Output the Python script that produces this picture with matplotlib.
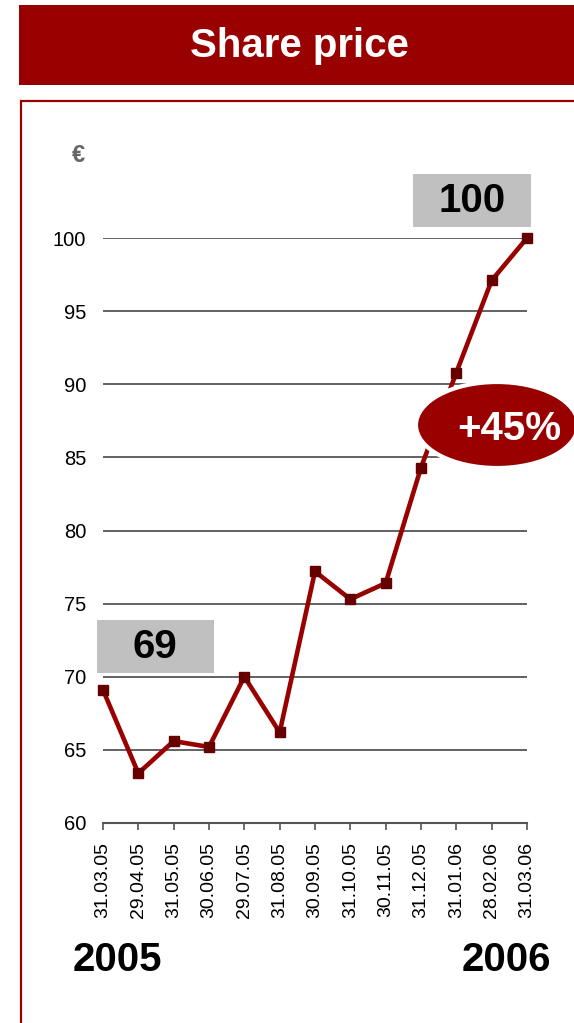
import matplotlib
matplotlib.use("Agg")
import matplotlib.pyplot as plt
from matplotlib.patches import Rectangle, Ellipse

plt.rcParams['font.family'] = ['Liberation Sans', 'DejaVu Sans']

# data
dates = ['31.03.05', '29.04.05', '31.05.05', '30.06.05', '29.07.05', '31.08.05',
         '30.09.05', '31.10.05', '30.11.05', '31.12.05', '31.01.06', '28.02.06', '31.03.06']
prices = [69.1, 63.4, 65.6, 65.2, 70.0, 66.2, 77.2, 75.3, 76.4, 84.3, 90.8, 97.1, 100.0]
yticks = [60, 65, 70, 75, 80, 85, 90, 95, 100]
start_label = '69'
end_label = '100'
change_label = '+45%'
years = ['2005', '2006']

RED = '#990000'
DARK = '#660000'
GRID = '#555555'

W, H = 574, 1023
fig = plt.figure(figsize=(W / 100, H / 100), dpi=100)


def fx(x):
    return x / W


def fy(y):
    return 1 - y / H


def box(x0, y0, x1, y1, **kw):
    # rectangle in pixel coords (top-left origin) on the figure
    r = Rectangle((fx(x0), fy(y1)), fx(x1) - fx(x0), fy(y0) - fy(y1),
                  transform=fig.transFigure, **kw)
    fig.patches.append(r)
    return r


# header banner and frame
box(19, 5, 576, 85, facecolor=RED, edgecolor='none')
fig.text(fx(299), fy(46), 'Share price', color='white', fontsize=29,
         fontweight='bold', ha='center', va='center')
box(21, 101, 580, 1030, facecolor='none', edgecolor=RED, linewidth=1.6)

# chart
ax = fig.add_axes([fx(103), fy(823), fx(527) - fx(103), fy(238) - fy(823)])
x = list(range(len(dates)))
ax.plot(x, prices, color=RED, linewidth=3.3, marker='s', markersize=7,
        markerfacecolor=DARK, markeredgecolor=DARK, clip_on=False, zorder=3)
ax.set_xlim(0, len(dates) - 1)
ax.set_ylim(60, 100)
ax.set_yticks(yticks)
ax.set_xticks(x)
ax.set_xticklabels(dates, rotation=90, fontsize=14)
ax.tick_params(axis='y', length=0, pad=12, labelsize=14.5)
ax.tick_params(axis='x', length=5, width=1.2, color=GRID, pad=9)
for spine in ['top', 'right', 'left']:
    ax.spines[spine].set_visible(False)
ax.spines['bottom'].set_color(GRID)
ax.spines['bottom'].set_linewidth(1.5)
ax.grid(axis='y', color=GRID, linewidth=1.3)
ax.set_axisbelow(True)

fig.text(fx(78), fy(156), '€', color='#666666', fontsize=17, fontweight='bold',
         ha='center', va='center')

# value boxes
box(413, 174, 531, 227, facecolor='#c0c0c0', edgecolor='none')
fig.text(fx(472), fy(201), end_label, fontsize=29, fontweight='bold',
         ha='center', va='center')
box(97, 620, 214, 673, facecolor='#c0c0c0', edgecolor='none')
fig.text(fx(155), fy(647), start_label, fontsize=29, fontweight='bold',
         ha='center', va='center')

# growth ellipse
ell = Ellipse((fx(497), fy(425)), fx(162), 86 / H, transform=fig.transFigure,
              facecolor=RED, edgecolor='white', linewidth=3)
fig.patches.append(ell)
fig.text(fx(509), fy(429), change_label, color='white', fontsize=29,
         fontweight='bold', ha='center', va='center')

# years
fig.text(fx(73), fy(960), years[0], fontsize=29, fontweight='bold',
         ha='left', va='center')
fig.text(fx(551), fy(960), years[1], fontsize=29, fontweight='bold',
         ha='right', va='center')

fig.savefig('out.png', dpi=100)
